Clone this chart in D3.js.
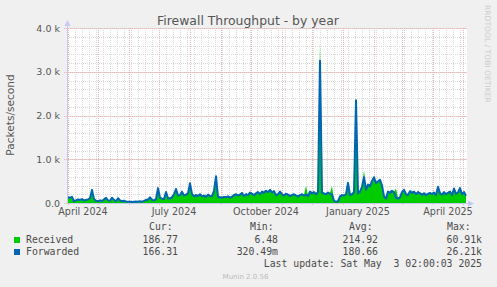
<html>
<head>
<script type="text/javascript" src="https://cdn.jsdelivr.net/npm/d3@7/dist/d3.min.js"></script>
<style>
    body { margin: 0; background: #f0f0f0; }
    text { font-family: "DejaVu Sans", sans-serif; }
    text.mono { font-family: "DejaVu Sans Mono", monospace; font-size: 9.8px; fill: #4a4a4a; }
    line.minor { stroke: #d9d9d9; stroke-dasharray: 1,1; }
    line.major { stroke: #efb4b4; stroke-dasharray: 1,1; }
</style>
</head>
<body>
<script type="text/javascript">

// one value every 2 days, starting 31 Mar 2024
var startDay = new Date(2024, 2, 31);
var endDay = new Date(2025, 4, 5);

var forwarded = [
    130, 120, 140, 40, 60, 80, 70, 90, 60, 70,
    80, 110, 300, 90, 50, 40, 60, 50, 80, 120,
    60, 50, 120, 70, 40, 110, 60, 40, 50, 35,
    30, 30, 25, 30, 35, 30, 40, 30, 50, 70,
    80, 130, 70, 60, 90, 340, 120, 100, 90, 250,
    110, 100, 130, 200, 320, 170, 180, 260, 170, 190,
    220, 450, 200, 150, 180, 160, 200, 150, 170, 140,
    190, 160, 150, 280, 610, 140, 130, 120, 140, 130,
    150, 120, 140, 180, 200, 170, 190, 230, 160, 200,
    180, 240, 210, 180, 220, 250, 200, 260, 230, 280,
    250, 300, 240, 270, 180, 200, 260, 200, 170, 210,
    190, 160, 180, 200, 170, 150, 180, 200, 170, 190,
    160, 260, 220, 250, 200, 250, 3250, 230, 220, 200,
    240, 210, 190, 50, 30, 40, 150, 180, 170, 200,
    460, 180, 200, 250, 2350, 220, 260, 370, 590, 300,
    420, 380, 500, 590, 450, 490, 530, 400, 150, 100,
    260, 230, 280, 240, 120, 100, 130, 250, 300, 200,
    180, 270, 230, 260, 200, 250, 220, 190, 220, 180,
    210, 230, 200, 240, 180, 370, 220, 190, 250, 200,
    230, 260, 180, 330, 210, 240, 340, 200, 250, 166
];

var received = [
    120, 110, 130, 30, 50, 70, 60, 80, 50, 60,
    70, 100, 280, 80, 40, 30, 50, 40, 70, 110,
    50, 40, 110, 60, 30, 100, 50, 30, 40, 25,
    20, 20, 15, 20, 25, 20, 30, 25, 45, 65,
    75, 120, 65, 55, 85, 320, 130, 110, 100, 240,
    130, 130, 150, 210, 310, 190, 200, 250, 190, 210,
    240, 470, 220, 170, 200, 180, 220, 170, 190, 160,
    210, 180, 170, 290, 600, 160, 150, 140, 160, 150,
    170, 140, 160, 200, 220, 190, 210, 250, 180, 220,
    200, 260, 230, 200, 240, 270, 220, 280, 250, 300,
    270, 320, 260, 290, 200, 220, 280, 220, 190, 230,
    210, 180, 200, 220, 190, 170, 200, 220, 190, 390,
    180, 280, 240, 270, 220, 270, 3700, 250, 240, 220,
    260, 230, 390, 60, 40, 50, 170, 200, 190, 220,
    480, 200, 220, 270, 2380, 240, 280, 390, 750, 330,
    440, 420, 520, 600, 480, 510, 540, 420, 170, 120,
    280, 250, 300, 260, 330, 120, 150, 270, 330, 220,
    200, 290, 250, 280, 220, 270, 240, 210, 240, 200,
    230, 250, 220, 260, 200, 390, 240, 210, 270, 220,
    250, 280, 200, 350, 230, 260, 360, 220, 270, 187
];

var yTicks = [0, 1000, 2000, 3000, 4000];
var yTickLabels = ["0.0", "1.0 k", "2.0 k", "3.0 k", "4.0 k"];
var xLabelMonths = [new Date(2024, 3, 1), new Date(2024, 6, 1), new Date(2024, 9, 1), new Date(2025, 0, 1), new Date(2025, 3, 1)];
var xLabels = ["April 2024", "July 2024", "October 2024", "January 2025", "April 2025"];

var seriesNames = ["Received", "Forwarded"];
var seriesColors = ["#00cc00", "#0066b3"];
var statHeaders = ["Cur:", "Min:", "Avg:", "Max:"];
var statValues = [
    ["186.77", "6.48", "214.92", "60.91k"],
    ["166.31", "320.49m", "180.66", "26.21k"]
];

var width = 497, height = 287;
var plotLeft = 67, plotRight = 467, plotTop = 28, plotBottom = 203;

var svg = d3.select("body").append("svg")
    .attr("width", width)
    .attr("height", height);

svg.append("rect").attr("width", width).attr("height", height).attr("fill", "#f0f0f0");
svg.append("rect")
    .attr("x", plotLeft).attr("y", plotTop)
    .attr("width", plotRight - plotLeft).attr("height", plotBottom - plotTop)
    .attr("fill", "#ffffff");

var x = d3.scaleTime().domain([startDay, endDay]).range([plotLeft, plotRight]);
var y = d3.scaleLinear().domain([0, 4000]).range([plotBottom, plotTop]);

var dates = forwarded.map(function(d, i) { return d3.timeDay.offset(startDay, 2 * i + 1); });

// grid
var g = svg.append("g");
g.selectAll("line.minorx")
    .data(d3.timeMonday.range(startDay, endDay))
    .enter().append("line")
        .attr("class", "minor minorx")
        .attr("x1", function(d) { return Math.round(x(d)) + 0.5; })
        .attr("x2", function(d) { return Math.round(x(d)) + 0.5; })
        .attr("y1", plotTop).attr("y2", plotBottom);
g.selectAll("line.minory")
    .data(d3.range(200, 4001, 200))
    .enter().append("line")
        .attr("class", "minor minory")
        .attr("x1", plotLeft).attr("x2", plotRight)
        .attr("y1", function(d) { return Math.round(y(d)) + 0.5; })
        .attr("y2", function(d) { return Math.round(y(d)) + 0.5; });
g.selectAll("line.majorx")
    .data(d3.timeMonth.range(startDay, endDay))
    .enter().append("line")
        .attr("class", "major majorx")
        .attr("x1", function(d) { return Math.round(x(d)) + 0.5; })
        .attr("x2", function(d) { return Math.round(x(d)) + 0.5; })
        .attr("y1", plotTop).attr("y2", plotBottom + 3);
g.selectAll("line.majory")
    .data(yTicks)
    .enter().append("line")
        .attr("class", "major majory")
        .attr("x1", plotLeft - 3).attr("x2", plotRight)
        .attr("y1", function(d) { return Math.round(y(d)) + 0.5; })
        .attr("y2", function(d) { return Math.round(y(d)) + 0.5; });

// data
svg.append("clipPath").attr("id", "plot")
    .append("rect").attr("x", plotLeft).attr("y", 0).attr("width", plotRight - plotLeft).attr("height", plotBottom);

var area = d3.area()
    .x(function(d, i) { return x(dates[i]); })
    .y0(y(0))
    .y1(function(d) { return y(d); });
var line = d3.line()
    .x(function(d, i) { return x(dates[i]); })
    .y(function(d) { return y(d); });

svg.append("path")
    .datum(received)
    .attr("clip-path", "url(#plot)")
    .attr("fill", seriesColors[0])
    .attr("d", area);
svg.append("path")
    .datum(forwarded)
    .attr("clip-path", "url(#plot)")
    .attr("fill", "none")
    .attr("stroke", seriesColors[1])
    .attr("stroke-width", 2)
    .attr("stroke-linejoin", "round")
    .attr("d", line);

// axes
var axisColor = "#c4c8f2";
svg.append("line").attr("x1", plotLeft + 0.5).attr("x2", plotLeft + 0.5).attr("y1", plotBottom).attr("y2", 23)
    .attr("stroke", axisColor);
svg.append("path").attr("d", "M64.5,26L70.5,26L67.5,20Z").attr("fill", axisColor);
svg.append("line").attr("x1", plotLeft).attr("x2", 470).attr("y1", plotBottom + 0.5).attr("y2", plotBottom + 0.5)
    .attr("stroke", axisColor);
svg.append("path").attr("d", "M468,200.5L468,206.5L474,203.5Z").attr("fill", axisColor);

svg.selectAll("text.ytick")
    .data(yTicks)
    .enter().append("text")
        .attr("class", "ytick")
        .attr("x", 60)
        .attr("y", function(d) { return y(d) + 3.5; })
        .attr("text-anchor", "end")
        .attr("font-size", "9.5px")
        .attr("fill", "#555")
        .text(function(d, i) { return yTickLabels[i]; });

svg.selectAll("text.xtick")
    .data(xLabelMonths)
    .enter().append("text")
        .attr("class", "xtick")
        .attr("x", function(d) { return x(d3.timeDay.offset(d, 15)); })
        .attr("y", 215)
        .attr("text-anchor", "middle")
        .attr("font-size", "9.6px")
        .attr("fill", "#555")
        .text(function(d, i) { return xLabels[i]; });

svg.append("text")
    .attr("x", 248).attr("y", 25)
    .attr("text-anchor", "middle")
    .attr("font-size", "12.4px")
    .attr("fill", "#555")
    .text("Firewall Throughput - by year");

svg.append("text")
    .attr("transform", "translate(14,115) rotate(-90)")
    .attr("text-anchor", "middle")
    .attr("font-size", "10.6px")
    .attr("fill", "#555")
    .text("Packets/second");

svg.append("text")
    .attr("transform", "translate(485,5) rotate(90)")
    .attr("font-size", "7.6px")
    .attr("fill", "#cccccc")
    .text("RRDTOOL / TOBI OETIKER");

// legend
var headerX = [149, 250, 349, 447];
var valueX = [178, 278, 378, 482];
svg.selectAll("text.head")
    .data(statHeaders)
    .enter().append("text")
        .attr("class", "mono head")
        .attr("x", function(d, i) { return headerX[i]; })
        .attr("y", 230)
        .text(function(d) { return d; });

seriesNames.forEach(function(name, s) {
    var ly = 243 + s * 12;
    svg.append("rect")
        .attr("x", 14).attr("y", ly - 6)
        .attr("width", 6).attr("height", 6)
        .attr("fill", seriesColors[s]);
    svg.append("text").attr("class", "mono").attr("x", 26).attr("y", ly).text(name);
    statValues[s].forEach(function(v, k) {
        svg.append("text")
            .attr("class", "mono")
            .attr("x", valueX[k]).attr("y", ly)
            .attr("text-anchor", "end")
            .text(v);
    });
});

svg.append("text")
    .attr("class", "mono")
    .attr("x", 482).attr("y", 267)
    .attr("text-anchor", "end")
    .style("white-space", "pre")
    .text("Last update: Sat May  3 02:00:03 2025");

svg.append("text")
    .attr("x", 245.5).attr("y", 279)
    .attr("text-anchor", "middle")
    .attr("font-size", "7px")
    .attr("fill", "#bbbbbb")
    .text("Munin 2.0.56");
</script>
</body>
</html>
